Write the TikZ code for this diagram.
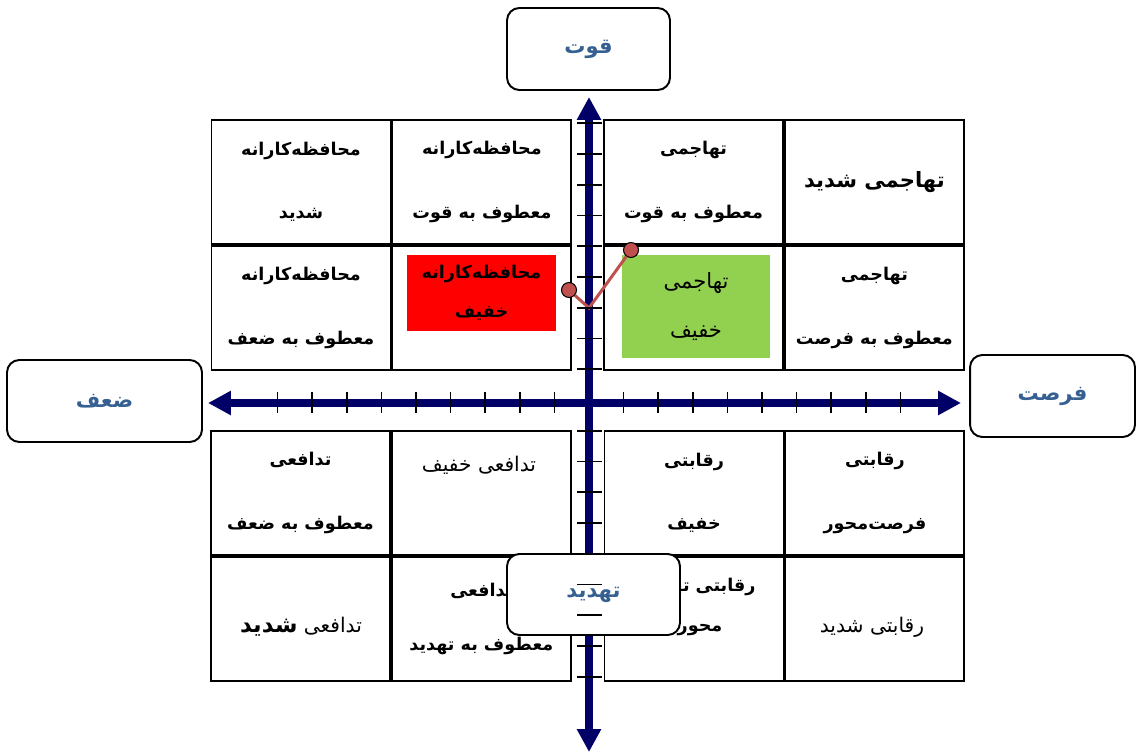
\documentclass[tikz,border=0pt]{standalone}
\usepackage{fontspec}
\usetikzlibrary{positioning}
\usetikzlibrary{arrows.meta}
\newfontfamily\farsi[Script=Arabic]{DejaVu Sans}
\TeXXeTstate=1
\newcommand{\fatext}[1]{\beginR #1\endR}
\definecolor{axisnavy}{RGB}{0,0,102}
\definecolor{tagblue}{RGB}{54,96,146}
\definecolor{trendred}{RGB}{192,80,77}
\definecolor{boxgreen}{RGB}{146,208,80}
\tikzset{
   cell/.style={draw, line width=1.1pt, minimum width=3.58cm, minimum height=2.48cm,
      inner sep=0pt, align=center, font=\farsi\bfseries\fontsize{10}{36}\selectfont},
   celltext/.style={inner sep=0pt, align=center, font=\farsi\fontsize{11.5}{13}\selectfont},
   sidebox/.style={draw, line width=1.1pt, rounded corners=7pt, fill=white,
      text=tagblue, font=\farsi\bfseries\fontsize{12}{14}\selectfont},
   axisline/.style={axisnavy, line width=4pt,
      {Triangle[length=13pt,width=13pt]}-{Triangle[length=13pt,width=13pt]}},
   axtick/.style={black, line width=1pt},
   reddot/.style={circle, fill=trendred, draw=black, line width=0.6pt,
      inner sep=0pt, minimum size=0.3cm},
   trend/.style={trendred, line width=1.7pt},
}

\begin{document}
\begin{tikzpicture}[x=0.02cm,y=-0.02cm]
   \useasboundingbox (0,0) rectangle (1141,753);

   % strengths / weaknesses, upper left
   \node[cell] (ul1) at (301,182) {\fatext{محافظه‌کارانه}\\\fatext{شدید}};
   \node[cell, right=0pt of ul1] (ul2) {\fatext{محافظه‌کارانه}\\\fatext{معطوف به قوت}};
   \node[cell, below=0pt of ul1] (ul3) {\fatext{محافظه‌کارانه}\\\fatext{معطوف به ضعف}};
   \node[cell, right=0pt of ul3] (ul4) {};

   % upper right
   \node[cell] (ur1) at (693.5,182) {\fatext{تهاجمی}\\\fatext{معطوف به قوت}};
   \node[cell, right=0pt of ur1, font=\farsi\bfseries\fontsize{12}{14}\selectfont]
      (ur2) {\fatext{تهاجمی شدید}};
   \node[cell, below=0pt of ur1] (ur3) {};
   \node[cell, right=0pt of ur3] (ur4) {\fatext{تهاجمی}\\\fatext{معطوف به فرصت}};

   % lower left
   \node[cell] (ll1) at (300.5,493) {\fatext{تدافعی}\\\fatext{معطوف به ضعف}};
   \node[cell, right=0pt of ll1] (ll2) {};
   \node[cell, below=0pt of ll1] (ll3) {};
   \node[cell, right=0pt of ll3, font=\farsi\bfseries\fontsize{10}{31}\selectfont]
      (ll4) {\fatext{تدافعی}\\\fatext{معطوف به تهدید}};

   % lower right
   \node[cell] (lr1) at (694,493) {\fatext{رقابتی}\\\fatext{خفیف}};
   \node[cell, right=0pt of lr1] (lr2) {\fatext{رقابتی}\\\fatext{فرصت‌محور}};
   \node[cell, below=0pt of lr1] (lr3) {};
   \node[cell, right=0pt of lr3] (lr4) {};

   % texts that sit off centre
   \node[celltext] (t22) at (479,465) {\fatext{تدافعی خفیف}};
   \node[celltext] (t23) at (301,627)
      {\fatext{تدافعی {\bfseries\fontsize{13}{15}\selectfont شدید}}};
   \node[celltext, font=\farsi\bfseries\fontsize{10}{23}\selectfont] (t43) at (700,607)
      {\fatext{رقابتی تهدید}\\\fatext{محور}};
   \node[celltext] (t44) at (872,627) {\fatext{رقابتی شدید}};

   % current position boxes
   \node[celltext, fill=red, minimum width=2.98cm, minimum height=1.52cm,
      font=\farsi\bfseries\fontsize{10}{22}\selectfont] (weak) at (481.5,293)
      {\fatext{محافظه‌کارانه}\\\fatext{خفیف}};
   \node[celltext, fill=boxgreen, minimum width=2.96cm, minimum height=2.06cm,
      font=\farsi\fontsize{12}{28}\selectfont] (strong) at (696,306.5)
      {\fatext{تهاجمی}\\\fatext{خفیف}};

   % axes
   \coordinate (xl) at (208,403);
   \coordinate (xr) at (961,403);
   \coordinate (yt) at (589,97);
   \coordinate (yb) at (589,752);
   \draw[axisline] (xl) -- (xr);
   \draw[axisline] (yb) -- (yt);
   \foreach \k in {1,...,9} {
      \draw[axtick] (589-34.6*\k,392) -- ++(0,21);
      \draw[axtick] (589+34.6*\k,392) -- ++(0,21);
   }

   % trend
   \node[reddot] (d1) at (569,290) {};
   \coordinate (d0) at (589,308);
   \node[reddot] (d2) at (631,250) {};
   \draw[trend] (d1) -- (d0) -- (d2);

   % axis names
   \node[sidebox, minimum width=3.26cm, minimum height=1.64cm] (qovvat) at (588.5,49) {\fatext{قوت}};
   \node[sidebox, minimum width=3.9cm, minimum height=1.64cm] (zaf) at (104.5,401) {\fatext{ضعف}};
   \node[sidebox, minimum width=3.3cm, minimum height=1.64cm] (forsat) at (1052.5,396) {\fatext{فرصت}};
   \node[sidebox, minimum width=3.46cm, minimum height=1.62cm] (tahdid) at (593.5,594.5) {\fatext{تهدید}};

   \foreach \k in {1,...,9} {
      \draw[axtick] (577,400-30.75*\k) -- ++(25,0);
      \draw[axtick] (577,400+30.75*\k) -- ++(25,0);
   }
\end{tikzpicture}
\end{document}
